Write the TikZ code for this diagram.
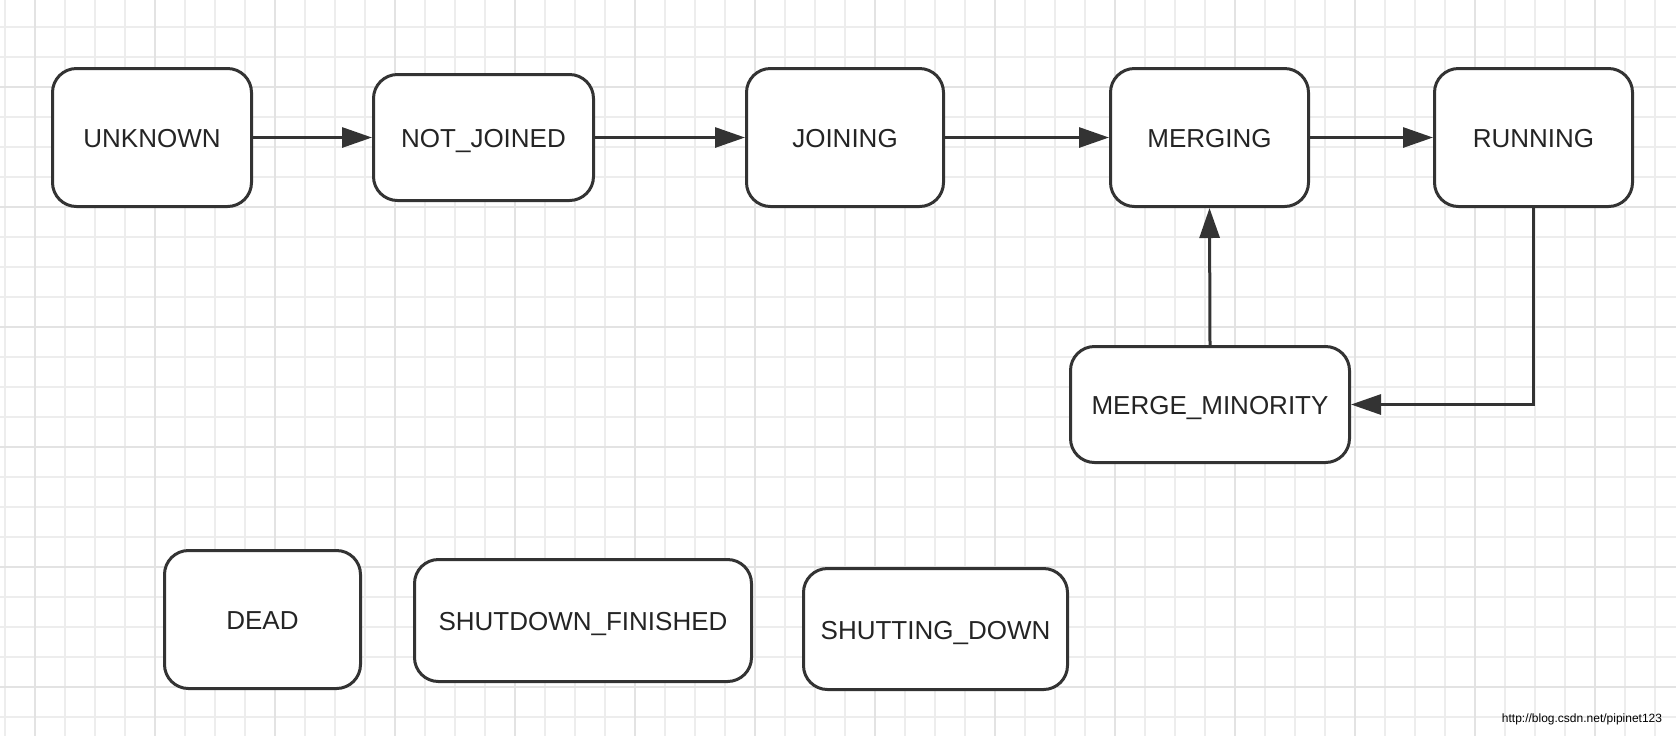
\documentclass[tikz,border=0pt]{standalone}
\usepackage{fontspec}
\setmainfont{Liberation Sans}
\usetikzlibrary{arrows.meta}
\definecolor{gridminor}{HTML}{EDEDED}
\definecolor{gridmajor}{HTML}{E3E3E3}
\definecolor{ink}{HTML}{333333}
\definecolor{txt}{HTML}{242424}
\tikzset{
  stbox/.style={draw=ink, line width=1.5pt, rounded corners=12pt, fill=white,
    inner sep=0pt, text=txt, text height=10.3pt, text depth=0pt,
    font=\fontsize{13}{15}\selectfont},
  conn/.style={draw=ink, line width=1.5pt, -{Triangle[length=15pt,width=10pt]}},
}
\begin{document}
\begin{tikzpicture}[x=0.5pt,y=-0.5pt]
\useasboundingbox (0,0) rectangle (1676,736);
\fill[white] (0,0) rectangle (1676,736);
% grid
\foreach \k in {0,...,55} { \draw[gridminor, line width=0.55pt] ({5+30*\k},0) -- ({5+30*\k},736); }
\foreach \k in {0,...,23} { \draw[gridminor, line width=0.55pt] (0,{27+30*\k}) -- (1676,{27+30*\k}); }
\foreach \k in {0,...,13} { \draw[gridmajor, line width=1pt] ({35+120*\k},0) -- ({35+120*\k},736); }
\foreach \k in {0,...,5} { \draw[gridmajor, line width=1pt] (0,{87+120*\k}) -- (1676,{87+120*\k}); }
% nodes
\node[stbox, minimum width=99.5pt, minimum height=69pt] (unknown) at (152,137.5) {UNKNOWN};
\node[stbox, minimum width=110pt, minimum height=63pt] (notjoined) at (483.5,137.5) {NOT\_JOINED};
\node[stbox, minimum width=98.5pt, minimum height=69pt] (joining) at (845,137.5) {JOINING};
\node[stbox, minimum width=99pt, minimum height=69pt] (merging) at (1209.5,137.5) {MERGING};
\node[stbox, minimum width=99pt, minimum height=69pt] (running) at (1533.5,137.5) {RUNNING};
\node[stbox, minimum width=139.5pt, minimum height=58pt] (mm) at (1210,404.5) {MERGE\_MINORITY};
\node[stbox, minimum width=98pt, minimum height=69pt] (dead) at (262.5,619.5) {DEAD};
\node[stbox, minimum width=168.5pt, minimum height=61pt] (sdf) at (583,620.5) {SHUTDOWN\_FINISHED};
\node[stbox, minimum width=132pt, minimum height=60.5pt] (sd) at (935.5,629) {SHUTTING\_DOWN};
% connectors
\draw[conn] (unknown.east) -- (notjoined.west);
\draw[conn] (notjoined.east) -- (joining.west);
\draw[conn] (joining.east) -- (merging.west);
\draw[conn] (merging.east) -- (running.west);
\draw[conn] (mm.north) -- (merging.south);
\draw[conn] (running.south) |- (mm.east);
% watermark
\node[font=\fontsize{6}{7}\selectfont, text=black, inner sep=0pt] (wm) at (1582,719) {http://blog.csdn.net/pipinet123};
\end{tikzpicture}
\end{document}
